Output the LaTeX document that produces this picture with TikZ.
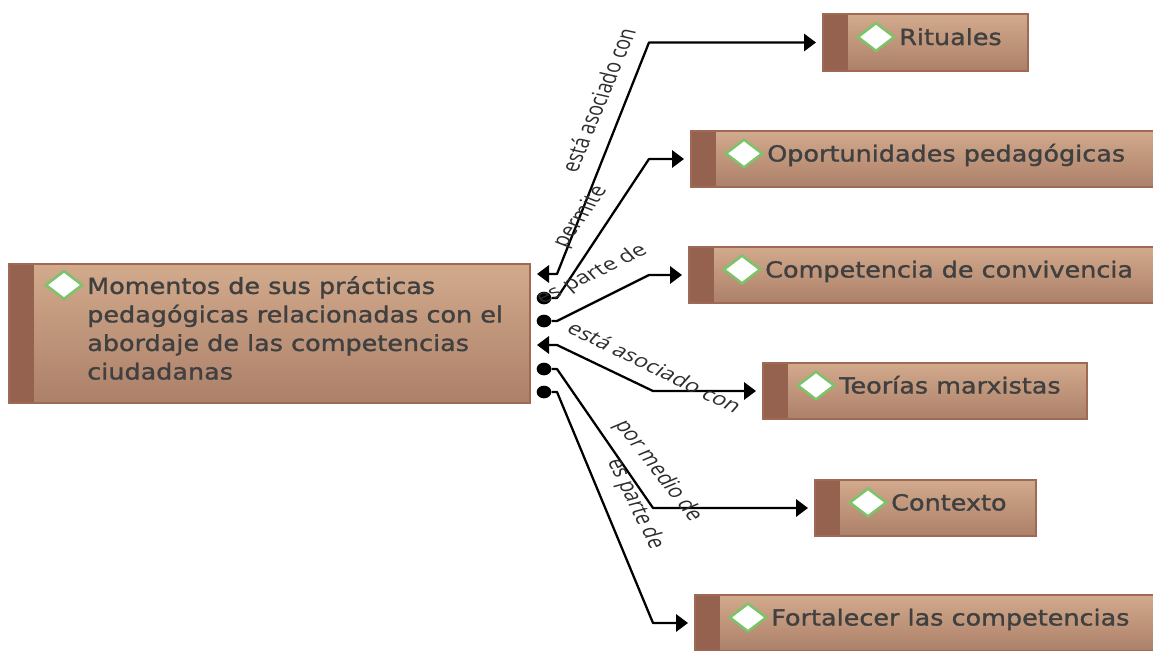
\documentclass[tikz,border=0pt]{standalone}
\usepackage{fontspec}
\setmainfont{DejaVu Sans}
\newfontfamily\boxfont[FakeStretch=1.15,FakeBold=1.3]{DejaVu Sans}
\newfontfamily\labfont{Open Sans}
\usetikzlibrary{arrows.meta,calc,shapes.geometric}
\definecolor{boxtop}{RGB}{210,170,140}
\definecolor{boxbot}{RGB}{172,128,105}
\definecolor{boxband}{RGB}{148,98,78}
\definecolor{boxline}{RGB}{160,105,85}
\definecolor{boxtext}{RGB}{64,64,64}
\definecolor{reltext}{RGB}{45,45,45}
\definecolor{diaedge}{RGB}{125,195,105}
\tikzset{
  concept/.style={draw=boxline,line width=1.5pt,top color=boxtop,bottom color=boxbot,inner sep=0pt,
    path picture={\fill[boxband] (path picture bounding box.north west) rectangle ([xshift=18.75pt]path picture bounding box.south west);}},
  dia/.style={diamond,draw=diaedge,fill=white,line width=1.9pt,minimum width=28pt,minimum height=21.5pt,inner sep=0pt},
  cname/.style={anchor=base west,text=boxtext,font=\boxfont\fontsize{16.6}{21.4}\selectfont,inner sep=0pt,align=left},
  dot/.style={ellipse,fill=black,minimum width=11pt,minimum height=9.5pt,inner sep=0pt},
  link/.style={line width=1.7pt,line join=round,shorten >=4.5pt},
  tip/.style={-{Triangle[length=9pt,width=13pt]}},
  tips/.style={{Triangle[length=9pt,width=13pt]}-{Triangle[length=9pt,width=13pt]}},
  rel/.style={xscale=1.355,transform shape,font=\labfont\fontsize{13.5}{15}\selectfont,text=reltext,inner sep=0pt}
}
\begin{document}
\begin{tikzpicture}[x=0.75pt,y=-0.75pt]
  \useasboundingbox (0,0) rectangle (1153,650);
  \clip (0,0) rectangle (1153,650);
  % concepts
  \node[concept,minimum width=390.75pt,minimum height=104.25pt] (main) at (269.5,333.5) {};
  \node[dia] (dmain) at (64,285) {};
  \node[cname,anchor=west] (tmain) at (87,328) {Momentos de sus prácticas\\pedagógicas relacionadas con el\\abordaje de las competencias\\ciudadanas};
  \foreach \name/\x/\y/\w/\h/\lab in {rit/925.5/42.5/205/57/Rituales,
      opo/924/159/466/56/Oportunidades pedagógicas,
      com/923/275/468/56/Competencia de convivencia,
      teo/925/391/324/56/Teorías marxistas,
      ctx/925.5/508/221/56/Contexto,
      fort/926/623/462/56/Fortalecer las competencias}{
    \node[concept,minimum width=\w*0.75pt,minimum height=\h*0.75pt] (\name) at (\x,\y) {};
    \node[dia] (d\name) at ($(\name.west)+(54,-5.5)$) {};
    \node[cname] (t\name) at ($(\name.west)+(77,2.5)$) {\lab};
  }
  % ends at the main box
  \coordinate (a1) at (537,274);
  \node[dot] (b2) at (544,298) {};
  \node[dot] (b3) at (544,321) {};
  \coordinate (a4) at (537,345);
  \node[dot] (b5) at (544,369) {};
  \node[dot] (b6) at (544,392) {};
  % connectors
  \draw[link,tips] (a1) -- ++(20,0) -- ($(rit.west)+(-173,0)$) -- (rit.west);
  \draw[link,tip] (b2) -- ++(13,0) -- ($(opo.west)+(-41,0)$) -- (opo.west);
  \draw[link,tip] (b3) -- ++(13,0) -- ($(com.west)+(-39,0)$) -- (com.west);
  \draw[link,tips] (a4) -- ++(20,0) -- ($(teo.west)+(-109,0)$) -- (teo.west);
  \draw[link,tip] (b5) -- ++(13,0) -- ($(ctx.west)+(-161,0)$) -- (ctx.west);
  \draw[link,tip] (b6) -- ++(13,0) -- ($(fort.west)+(-41,0)$) -- (fort.west);
  % relation names
  \node[rel,rotate=73] (r1) at (598,100) {está asociado con};
  \node[rel,rotate=62] (r2) at (581,217) {permite};
  \node[rel,rotate=33.5] (r3) at (592,275) {es parte de};
  \node[rel,rotate=-33.4] (r4) at (655,367) {está asociado con};
  \node[rel,rotate=-60] (r5) at (658,471) {por medio de};
  \node[rel,rotate=-70] (r6) at (635,504) {es parte de};
\end{tikzpicture}
\end{document}
